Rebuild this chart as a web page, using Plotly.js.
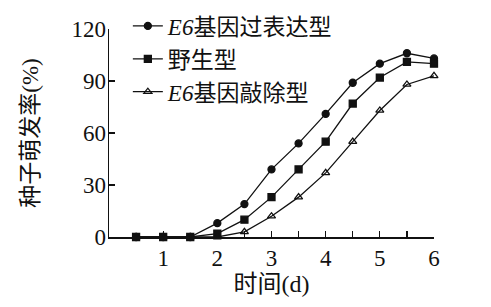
<!DOCTYPE html>
<html>
<head>
<meta charset="utf-8">
<script src="https://cdn.plot.ly/plotly-3.0.1.min.js"></script>
<style>html,body{margin:0;padding:0;background:#fff;}#chart{width:491px;height:307px;}</style>
</head>
<body>
<div id="chart"></div>
<script>
var days = [0.5, 1, 1.5, 2, 2.5, 3, 3.5, 4, 4.5, 5, 5.5, 6];
var overExpr = [0, 0, 0, 8, 19, 39, 54, 71, 89, 100, 106, 103];
var wildType = [0, 0, 0, 2, 10, 23, 39, 55, 77, 92, 101, 100];
var knockOut = [0, 0, 0, 0, 3, 12, 23, 37, 55, 73, 88, 93];
var seriesNames = ['<i>E6</i>基因过表达型', '野生型', '<i>E6</i>基因敲除型'];
var xTickVals = [1, 2, 3, 4, 5, 6];
var xTickText = ['1', '2', '3', '4', '5', '6'];
var yTickVals = [0, 30, 60, 90, 120];

var serif = 'Liberation Serif, Times New Roman, Noto Sans CJK SC, serif';
function tr(y, name, sym, g) {
  return {
    x: days, y: y, name: name, type: 'scatter', mode: 'lines+markers',
    legendgroup: g, cliponaxis: false,
    line: {color: '#111', width: 1.3},
    marker: {symbol: sym, size: 7, color: '#111', line: {color: '#111', width: 1.3}}
  };
}
var data = [
  tr(overExpr, seriesNames[0], 'circle', 'a'),
  tr(wildType, seriesNames[1], 'square', 'b'),
  tr(knockOut, seriesNames[2], 'triangle-up-open', 'c')
];
var layout = {
  width: 491, height: 307,
  margin: {l: 109, r: 57, t: 29, b: 70, autoexpand: false},
  paper_bgcolor: '#fff', plot_bgcolor: '#fff',
  showlegend: true,
  legend: {x: 0.058, y: 1.118, xanchor: 'left', yanchor: 'top', traceorder: 'grouped',
    tracegroupgap: 0, bgcolor: 'rgba(0,0,0,0)',
    font: {family: serif, size: 23, color: '#111'}},
  xaxis: {range: [0, 6], tickvals: xTickVals, ticktext: xTickText,
    ticks: 'inside', ticklen: 6, tickcolor: '#111', tickwidth: 1.2,
    minor: {tickvals: [2.5, 3.5, 4.5, 5.5], ticks: 'inside', ticklen: 6, tickcolor: '#111', tickwidth: 1.2},
    showline: true, linecolor: '#111', linewidth: 1.5, showgrid: false, zeroline: false,
    tickfont: {family: serif, size: 23, color: '#111'},
    title: {text: '时间(d)', font: {family: serif, size: 24, color: '#111'}, standoff: 2}},
  yaxis: {range: [0, 120], tickvals: yTickVals, ticklabelstandoff: -3,
    ticks: 'inside', ticklen: 6, tickcolor: '#111', tickwidth: 1.2,
    showline: true, linecolor: '#111', linewidth: 1.5, showgrid: false, zeroline: false,
    tickfont: {family: serif, size: 23, color: '#111'},
    title: {text: '种子萌发率(%)', font: {family: serif, size: 23, color: '#111'}, standoff: 26}}
};
Plotly.newPlot('chart', data, layout, {staticPlot: true});
</script>
</body>
</html>
